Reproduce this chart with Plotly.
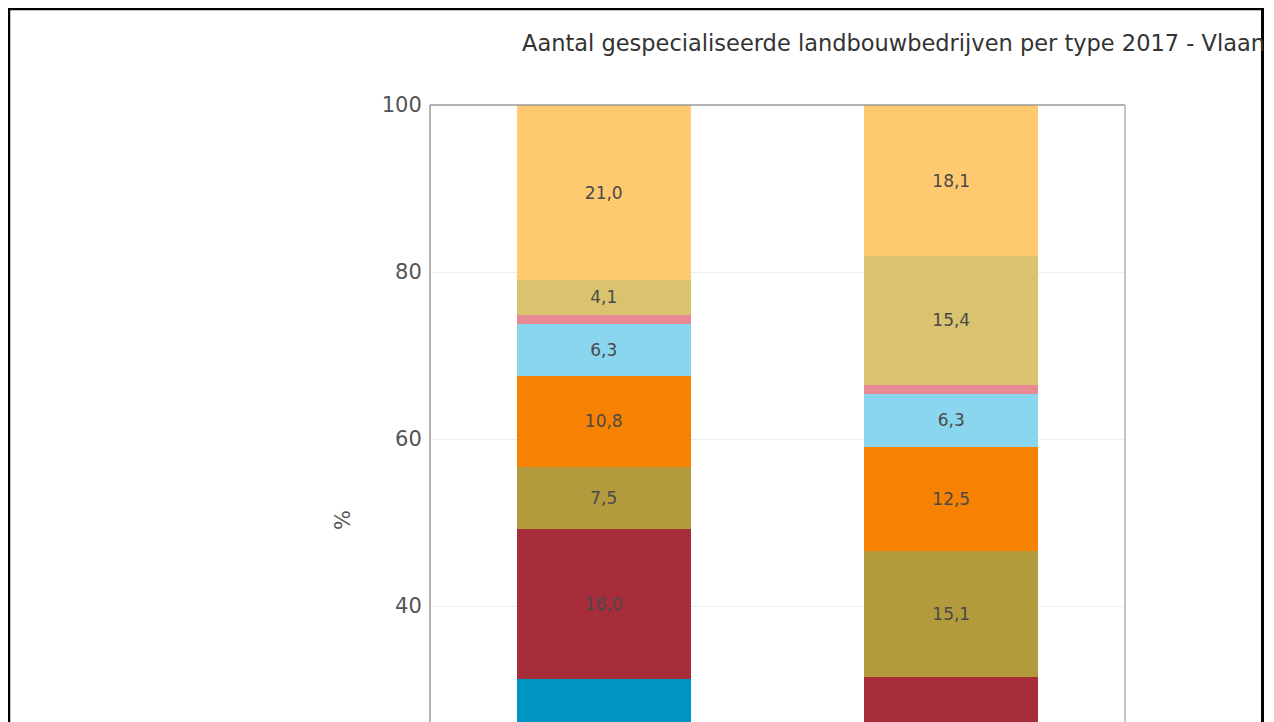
import plotly.graph_objects as go

# ---- data ----
categories = ["Vlaanderen 2017", "Vlaanderen 2007"]
series_names = [
    "Akkerbouw", "Tuinbouw", "Blijvende teelten", "Graasdieren - melkvee",
    "Graasdieren - andere", "Hokdieren", "Gemengd - gewassen", "Gemengd - veeteelt",
]
# stacked bottom -> top
series_values = [
    [31.2, 14.6],   # blue (bottom, mostly hidden)
    [18.0, 16.9],   # dark red
    [7.5, 15.1],    # olive
    [10.8, 12.5],   # orange
    [6.3, 6.3],     # light blue
    [1.1, 1.1],     # pink
    [4.1, 15.4],    # khaki
    [21.0, 18.1],   # light orange (top)
]
series_colors = [
    "#0094C3", "#A82D3A", "#B39A3D", "#F78100",
    "#8AD6EE", "#E88A93", "#D9C36F", "#FEC96F",
]
# label placement per series (labels of segments below the visible area are not drawn)
label_positions = [
    ["none", "none"],
    ["inside", "none"],
    ["inside", "inside"],
    ["inside", "inside"],
    ["inside", "inside"],
    ["inside", "inside"],
    ["inside", "inside"],
    ["inside", "inside"],
]
y_ticks = [40, 60, 80, 100]
title_text = "Aantal gespecialiseerde landbouwbedrijven per type 2017 - Vlaanderen"

# figure geometry (figure pixels; page has an 8px body offset)
W, H = 1256, 714
L, R_PX, T = 422, 1117, 97
PW, PH = R_PX - L, H - T
PX_PER_UNIT = 8.35

fig = go.Figure()
for name, vals, col, pos in zip(series_names, series_values, series_colors, label_positions):
    fig.add_trace(go.Bar(
        x=categories, y=vals, name=name,
        marker=dict(color=col, line=dict(width=0)),
        texttemplate="%{y:.1f}", textposition=pos,
        insidetextanchor="middle",
        textfont=dict(family="DejaVu Sans", size=17, color="#4a4a4a"),
        cliponaxis=True,
    ))

def px_x(px):
    return (px - L) / PW

def px_y(py):
    return (H - py) / PH

shapes = [
    # plot frame (top / right / left in grey)
    dict(type="line", xref="paper", yref="paper", x0=0, x1=1, y0=1, y1=1,
         line=dict(color="#9a9a9a", width=1.5)),
    dict(type="line", xref="paper", yref="paper", x0=0, x1=0, y0=0, y1=1,
         line=dict(color="#9a9a9a", width=1.5)),
    dict(type="line", xref="paper", yref="paper", x0=1, x1=1, y0=0, y1=1,
         line=dict(color="#b0b0b0", width=1.5)),
    # black outer border
    dict(type="line", xref="paper", yref="paper", x0=px_x(0), x1=px_x(W),
         y0=px_y(1), y1=px_y(1), line=dict(color="black", width=2.5)),
    dict(type="line", xref="paper", yref="paper", x0=px_x(1), x1=px_x(1),
         y0=px_y(0), y1=px_y(H + 2), line=dict(color="black", width=2.5)),
    dict(type="line", xref="paper", yref="paper", x0=px_x(W - 1.5), x1=px_x(W - 1.5),
         y0=px_y(0), y1=px_y(H + 2), line=dict(color="black", width=3)),
]

fig.update_layout(
    width=W, height=H,
    margin=dict(l=L, r=W - R_PX, t=T, b=0, pad=0),
    paper_bgcolor="white", plot_bgcolor="white",
    barmode="stack", bargap=0.5,
    showlegend=False,
    separators=",.",
    uniformtext=dict(minsize=15, mode="hide"),
    font=dict(family="DejaVu Sans", color="#555555"),
    title=dict(text=title_text, x=514 / W, xref="container", xanchor="left",
               y=1 - 35 / H, yref="container", yanchor="middle",
               font=dict(family="DejaVu Sans", size=22.5, color="#333333")),
    xaxis=dict(showticklabels=False, showgrid=False, zeroline=False, showline=False),
    yaxis=dict(range=[100 - PH / PX_PER_UNIT, 100], tickvals=y_ticks,
               tickfont=dict(family="DejaVu Sans", size=21, color="#555555"),
               showgrid=True, gridcolor="#e6f2f8", gridwidth=1,
               zeroline=False, showline=False,
               ticks="outside", ticklen=3, tickcolor="rgba(0,0,0,0)"),
    shapes=shapes,
    annotations=[dict(text="%", xref="paper", yref="paper",
                      x=px_x(335), y=px_y(512), textangle=-90, showarrow=False,
                      xanchor="center", yanchor="middle",
                      font=dict(family="DejaVu Sans", size=21, color="#555555"))],
)

fig.write_html("out.html")
